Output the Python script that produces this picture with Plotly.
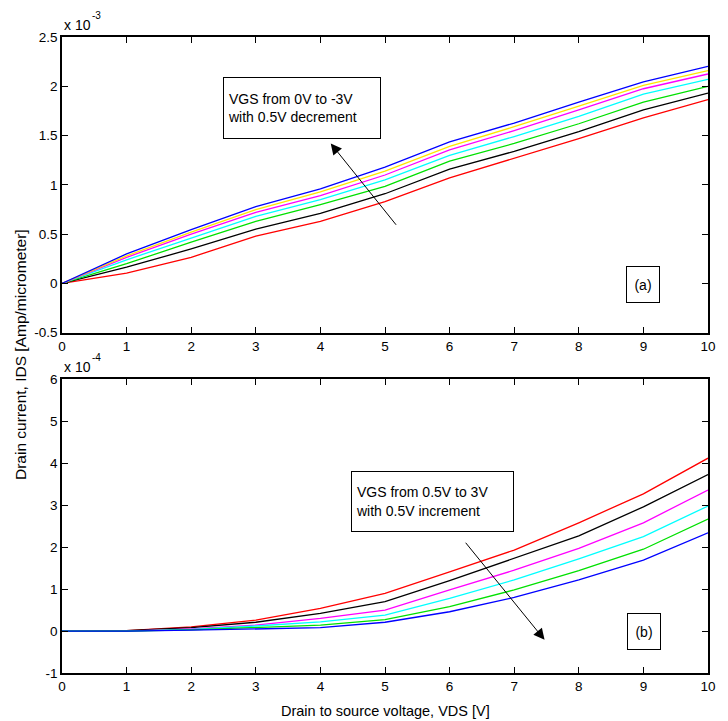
import plotly.graph_objects as go

# ---------------- data ----------------
vds = [0, 1, 2, 3, 4, 5, 6, 7, 8, 9, 10]

# (a) drain current, units of 1e-3 A/um, VGS 0V .. -3V
vgs_a_labels = ["0V", "-0.5V", "-1V", "-1.5V", "-2V", "-2.5V", "-3V"]
ids_a_0v   = [0, 0.105, 0.265, 0.48, 0.63, 0.83, 1.07, 1.27, 1.47, 1.68, 1.865]
ids_a_m05v = [0, 0.165, 0.35, 0.55, 0.71, 0.91, 1.16, 1.34, 1.54, 1.76, 1.93]
ids_a_m1v  = [0, 0.20, 0.42, 0.63, 0.80, 0.985, 1.24, 1.42, 1.62, 1.84, 2.00]
ids_a_m15v = [0, 0.24, 0.46, 0.68, 0.85, 1.05, 1.30, 1.49, 1.695, 1.92, 2.07]
ids_a_m2v  = [0, 0.265, 0.50, 0.72, 0.89, 1.10, 1.355, 1.55, 1.76, 1.975, 2.125]
ids_a_m25v = [0, 0.28, 0.52, 0.75, 0.93, 1.14, 1.39, 1.59, 1.80, 2.01, 2.16]
ids_a_m3v  = [0, 0.30, 0.545, 0.78, 0.96, 1.18, 1.435, 1.627, 1.84, 2.044, 2.203]
series_a = [ids_a_0v, ids_a_m05v, ids_a_m1v, ids_a_m15v, ids_a_m2v, ids_a_m25v, ids_a_m3v]
colors_a = ["#ff0000", "#000000", "#00e000", "#00ffff", "#ff00ff", "#ffe600", "#0000ff"]

# (b) drain current, units of 1e-4 A/um, VGS 0.5V .. 3V
vgs_b_labels = ["0.5V", "1V", "1.5V", "2V", "2.5V", "3V"]
ids_b_05v = [0, 0.01, 0.10, 0.26, 0.54, 0.90, 1.41, 1.93, 2.58, 3.27, 4.12]
ids_b_1v  = [0, 0.01, 0.08, 0.21, 0.42, 0.70, 1.20, 1.73, 2.27, 2.96, 3.73]
ids_b_15v = [0, 0.0, 0.05, 0.14, 0.30, 0.50, 0.98, 1.45, 1.97, 2.58, 3.36]
ids_b_2v  = [0, 0.0, 0.04, 0.12, 0.22, 0.38, 0.78, 1.22, 1.72, 2.25, 2.98]
ids_b_25v = [0, 0.0, 0.03, 0.08, 0.14, 0.27, 0.58, 0.98, 1.44, 1.95, 2.67]
ids_b_3v  = [0, 0.0, 0.02, 0.05, 0.08, 0.21, 0.46, 0.80, 1.22, 1.69, 2.34]
series_b = [ids_b_05v, ids_b_1v, ids_b_15v, ids_b_2v, ids_b_25v, ids_b_3v]
colors_b = ["#ff0000", "#000000", "#ff00ff", "#00ffff", "#00e000", "#0000ff"]

x_ticks = [0, 1, 2, 3, 4, 5, 6, 7, 8, 9, 10]
x_ticktext = ["0", "1", "2", "3", "4", "5", "6", "7", "8", "9", "10"]
ya_ticks = [-0.5, 0, 0.5, 1, 1.5, 2, 2.5]
ya_ticktext = ["-0.5", "0", "0.5", "1", "1.5", "2", "2.5"]
yb_ticks = [-1, 0, 1, 2, 3, 4, 5, 6]
yb_ticktext = ["-1", "0", "1", "2", "3", "4", "5", "6"]

FONT = "Liberation Sans, Arial, sans-serif"

fig = go.Figure()
for name, ys, c in zip(vgs_a_labels, series_a, colors_a):
    fig.add_trace(go.Scatter(x=vds, y=ys, mode="lines", name="VGS " + name,
                             line=dict(color=c, width=1.3), xaxis="x", yaxis="y"))
for name, ys, c in zip(vgs_b_labels, series_b, colors_b):
    fig.add_trace(go.Scatter(x=vds, y=ys, mode="lines", name="VGS " + name,
                             line=dict(color=c, width=1.3), xaxis="x2", yaxis="y2"))

axis_common = dict(showline=True, linecolor="black", linewidth=1.5, mirror="ticks",
                   ticks="inside", ticklen=6, tickwidth=1, tickcolor="black",
                   showgrid=False, zeroline=False,
                   tickfont=dict(family=FONT, size=13.5, color="black"))

fig.update_layout(
    width=728, height=721,
    margin=dict(l=62, r=15, t=37, b=48),
    paper_bgcolor="white", plot_bgcolor="white",
    showlegend=False,
    font=dict(family=FONT, size=14, color="black"),
    xaxis=dict(domain=[0, 1], anchor="y", range=[0, 10], tickvals=x_ticks,
               ticktext=x_ticktext, **axis_common),
    yaxis=dict(domain=[0.535, 1], anchor="x", range=[-0.5, 2.5], tickvals=ya_ticks,
               ticktext=ya_ticktext, **axis_common),
    xaxis2=dict(domain=[0, 1], anchor="y2", range=[0, 10], tickvals=x_ticks,
                ticktext=x_ticktext, **axis_common),
    yaxis2=dict(domain=[0, 0.4618], anchor="x2", range=[-1, 6], tickvals=yb_ticks,
                ticktext=yb_ticktext, **axis_common),
)

ann = []
# exponent labels
for ytop, expo in [(1, "-3"), (0.4618, "-4")]:
    ann.append(dict(text="x 10", xref="paper", yref="paper", x=0, y=ytop,
                    xanchor="left", yanchor="bottom", yshift=2, showarrow=False,
                    font=dict(family=FONT, size=14)))
    ann.append(dict(text=expo, xref="paper", yref="paper", x=0, y=ytop, xshift=28,
                    xanchor="left", yanchor="bottom", yshift=14, showarrow=False,
                    font=dict(family=FONT, size=10)))
# text boxes
ann.append(dict(text="VGS from 0V to -3V<br>with 0.5V decrement", x=3.713, y=1.777,
                xref="x", yref="y", showarrow=False, align="left",
                width=148, height=52, borderpad=4, bordercolor="black", borderwidth=1,
                bgcolor="white", font=dict(family=FONT, size=14)))
ann.append(dict(text="VGS from 0.5V to 3V<br>with 0.5V increment", x=5.734, y=3.093,
                xref="x2", yref="y2", showarrow=False, align="left",
                width=153, height=51, borderpad=4, bordercolor="black", borderwidth=1,
                bgcolor="white", font=dict(family=FONT, size=14)))
ann.append(dict(text="(a)", x=9.0, y=-0.008, xref="x", yref="y", showarrow=False,
                width=24, height=27, borderpad=4, bordercolor="black", borderwidth=1,
                bgcolor="white", font=dict(family=FONT, size=14)))
ann.append(dict(text="(b)", x=9.015, y=-0.007, xref="x2", yref="y2", showarrow=False,
                width=24, height=27, borderpad=4, bordercolor="black", borderwidth=1,
                bgcolor="white", font=dict(family=FONT, size=14)))
# arrows
ann.append(dict(text="", x=4.16, y=1.42, ax=5.19, ay=0.58, xref="x", yref="y",
                axref="x", ayref="y", showarrow=True, arrowhead=2, arrowsize=2.2,
                arrowwidth=1, arrowcolor="black"))
ann.append(dict(text="", x=7.47, y=-0.21, ax=6.23, ay=2.14, xref="x2", yref="y2",
                axref="x2", ayref="y2", showarrow=True, arrowhead=2, arrowsize=2.2,
                arrowwidth=1, arrowcolor="black"))
# axis titles
ann.append(dict(text="Drain to source voltage, VDS [V]", xref="paper", yref="paper",
                x=0.5, y=0, yshift=-28, xanchor="center", yanchor="top", showarrow=False,
                font=dict(family=FONT, size=14.5)))
ann.append(dict(text="Drain current, IDS [Amp/micrometer]", xref="paper", yref="paper",
                x=0, y=0.5, xshift=-42, xanchor="center", yanchor="middle", textangle=-90,
                showarrow=False, font=dict(family=FONT, size=15.5)))
fig.update_layout(annotations=ann)

fig.write_html("out.html", config={"displayModeBar": False},
               post_script="document.body.style.margin='0';")
